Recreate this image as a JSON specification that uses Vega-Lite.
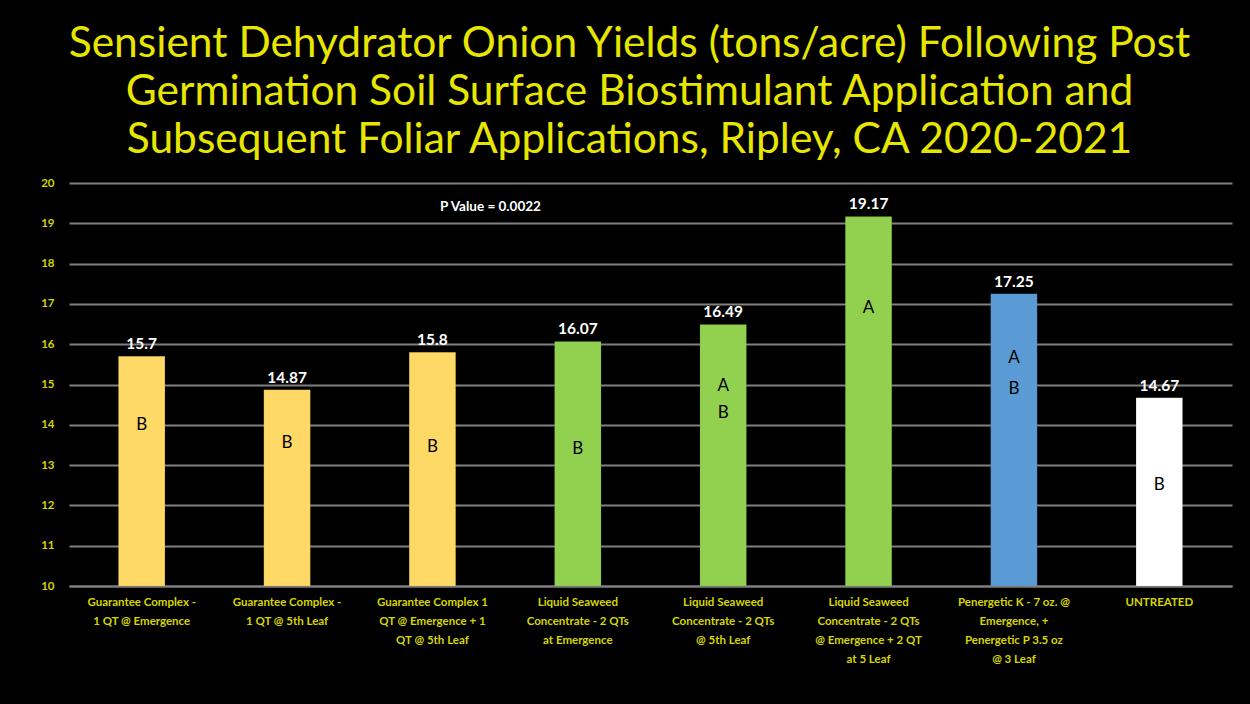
{
  "$schema": "https://vega.github.io/schema/vega-lite/v6.json",
  "autosize": {"type": "none"},
  "width": 1163,
  "height": 403,
  "padding": {"left": 69, "top": 183, "right": 18, "bottom": 118},
  "background": "#000000",
  "title": {
    "text": ["Sensient Dehydrator Onion Yields (tons/acre) Following Post", "Germination Soil Surface Biostimulant Application and", "Subsequent Foliar Applications, Ripley, CA 2020-2021"],
    "font": "Lato",
    "fontSize": 42.5,
    "fontWeight": "normal",
    "color": "#E6E600",
    "anchor": "middle",
    "frame": "group",
    "dx": -21,
    "offset": 16,
    "lineHeight": 48
  },
  "datasets": {
    "yields": [
      {"treatment": "Guarantee Complex  -|1 QT @ Emergence", "yield": 15.7, "group": "Guarantee"},
      {"treatment": "Guarantee Complex -|1 QT @ 5th Leaf", "yield": 14.87, "group": "Guarantee"},
      {"treatment": "Guarantee Complex 1|QT @ Emergence + 1|QT @ 5th Leaf", "yield": 15.8, "group": "Guarantee"},
      {"treatment": "Liquid Seaweed|Concentrate - 2 QTs|at Emergence", "yield": 16.07, "group": "Seaweed"},
      {"treatment": "Liquid  Seaweed|Concentrate - 2 QTs|@ 5th Leaf", "yield": 16.49, "group": "Seaweed"},
      {"treatment": "Liquid Seaweed|Concentrate - 2 QTs|@ Emergence  + 2 QT|at 5 Leaf", "yield": 19.17, "group": "Seaweed"},
      {"treatment": "Penergetic K - 7 oz. @|Emergence, +|Penergetic P   3.5 oz|@ 3 Leaf", "yield": 17.25, "group": "Penergetic"},
      {"treatment": "UNTREATED", "yield": 14.67, "group": "Untreated"}
    ],
    "letters": [
      {"treatment": "Guarantee Complex  -|1 QT @ Emergence", "letter": "B", "pos": 14.0},
      {"treatment": "Guarantee Complex -|1 QT @ 5th Leaf", "letter": "B", "pos": 13.55},
      {"treatment": "Guarantee Complex 1|QT @ Emergence + 1|QT @ 5th Leaf", "letter": "B", "pos": 13.45},
      {"treatment": "Liquid Seaweed|Concentrate - 2 QTs|at Emergence", "letter": "B", "pos": 13.4},
      {"treatment": "Liquid  Seaweed|Concentrate - 2 QTs|@ 5th Leaf", "letter": "A", "pos": 14.96},
      {"treatment": "Liquid  Seaweed|Concentrate - 2 QTs|@ 5th Leaf", "letter": "B", "pos": 14.3},
      {"treatment": "Liquid Seaweed|Concentrate - 2 QTs|@ Emergence  + 2 QT|at 5 Leaf", "letter": "A", "pos": 16.9},
      {"treatment": "Penergetic K - 7 oz. @|Emergence, +|Penergetic P   3.5 oz|@ 3 Leaf", "letter": "A", "pos": 15.65},
      {"treatment": "Penergetic K - 7 oz. @|Emergence, +|Penergetic P   3.5 oz|@ 3 Leaf", "letter": "B", "pos": 14.9},
      {"treatment": "UNTREATED", "letter": "B", "pos": 12.5}
    ],
    "note": [
      {"treatment": "Guarantee Complex 1|QT @ Emergence + 1|QT @ 5th Leaf", "text": "P Value = 0.0022", "pos": 19.4}
    ]
  },
  "encoding": {
    "x": {
      "field": "treatment",
      "type": "nominal",
      "sort": null,
      "scale": {"paddingInner": 0.68, "paddingOuter": 0.34},
      "axis": {
        "title": null,
        "labelAngle": 0,
        "labelExpr": "split(datum.label, '|')",
        "labelFont": "Lato",
        "labelFontSize": 11.5,
        "labelFontWeight": "bold",
        "labelColor": "#D6D600",
        "labelLimit": 0,
        "labelLineHeight": 19,
        "labelPadding": 10,
        "labelBaseline": "top",
        "ticks": false,
        "domain": true,
        "domainColor": "#7f7f7f",
        "domainWidth": 2,
        "grid": false
      }
    }
  },
  "layer": [
    {
      "data": {"name": "yields"},
      "mark": {"type": "bar", "stroke": "#00000022", "strokeWidth": 0.5},
      "encoding": {
        "y": {
          "field": "yield",
          "type": "quantitative",
          "scale": {"domain": [10, 20], "zero": false, "nice": false},
          "axis": {
            "title": null,
            "values": [10, 11, 12, 13, 14, 15, 16, 17, 18, 19, 20],
            "labelFont": "Lato",
            "labelFontSize": 11.5,
            "labelFontWeight": "bold",
            "labelColor": "#D6D600",
            "labelPadding": 15,
            "ticks": false,
            "domain": false,
            "grid": true,
            "gridColor": "#808080",
            "gridWidth": 2
          }
        },
        "y2": {"datum": 10},
        "color": {
          "field": "group",
          "type": "nominal",
          "scale": {"domain": ["Guarantee", "Seaweed", "Penergetic", "Untreated"], "range": ["#FFD966", "#92D050", "#5B9BD5", "#FFFFFF"]},
          "legend": null
        }
      }
    },
    {
      "data": {"name": "yields"},
      "mark": {"type": "text", "baseline": "bottom", "dy": -4, "font": "Lato", "fontSize": 15.5, "fontWeight": "bold", "color": "#FFFFFF"},
      "encoding": {
        "y": {"field": "yield", "type": "quantitative"},
        "text": {"field": "yield", "type": "quantitative"}
      }
    },
    {
      "data": {"name": "letters"},
      "mark": {"type": "text", "baseline": "middle", "font": "Lato", "fontSize": 17, "color": "#000000"},
      "encoding": {
        "y": {"field": "pos", "type": "quantitative"},
        "text": {"field": "letter", "type": "nominal"}
      }
    },
    {
      "data": {"name": "note"},
      "mark": {"type": "text", "baseline": "middle", "dx": 58, "font": "Lato", "fontSize": 13.5, "fontWeight": "bold", "color": "#FFFFFF"},
      "encoding": {
        "y": {"field": "pos", "type": "quantitative"},
        "text": {"field": "text", "type": "nominal"}
      }
    }
  ],
  "config": {"view": {"stroke": null}}
}
